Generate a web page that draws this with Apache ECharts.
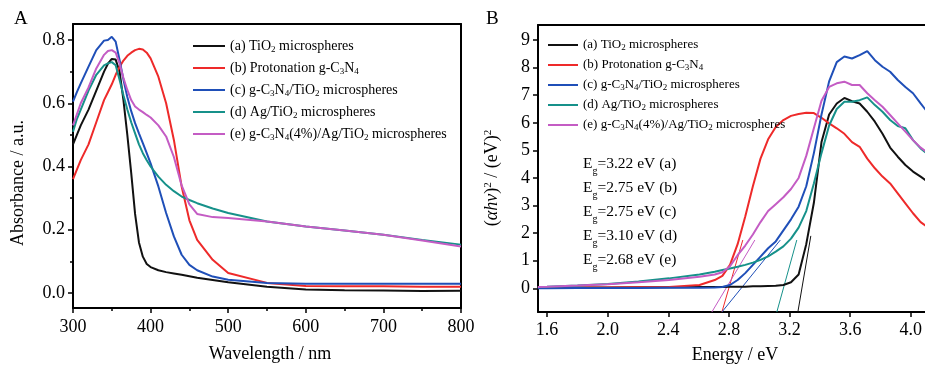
<!DOCTYPE html>
<html>
<head>
<meta charset="utf-8">
<script src="https://cdn.jsdelivr.net/npm/echarts@6/dist/echarts.min.js"></script>
<style>html,body{margin:0;padding:0;background:#fff;}#c{width:925px;height:368px;}</style>
</head>
<body>
<div id="c"></div>
<script>
// ---------- Data ----------
var seriesNames = ['(a) TiO2 microspheres', '(b) Protonation g-C3N4', '(c) g-C3N4/TiO2 microspheres', '(d) Ag/TiO2 microspheres', '(e) g-C3N4(4%)/Ag/TiO2 microspheres'];
var legendLabels = ['(a) TiO{s|2} microspheres', '(b) Protonation g-C{s|3}N{s|4}', '(c) g-C{s|3}N{s|4}/TiO{s|2} microspheres', '(d) Ag/TiO{s|2} microspheres', '(e) g-C{s|3}N{s|4}(4%)/Ag/TiO{s|2} microspheres'];
var colors = ['#111111', '#ee2a2a', '#1f4fb8', '#16918a', '#c45cc4'];

// Panel A: absorbance vs wavelength (nm)
var wavelength = [300,305,310,320,330,340,345,350,355,360,365,370,375,380,385,390,395,400,410,420,430,440,450,460,480,500,550,600,650,700,750,800];
var absA = [0.47,0.50,0.53,0.58,0.64,0.70,0.725,0.74,0.738,0.70,0.61,0.50,0.38,0.25,0.16,0.115,0.092,0.082,0.072,0.066,0.062,0.058,0.053,0.048,0.041,0.034,0.020,0.011,0.009,0.008,0.006,0.007];
var absB = [0.36,0.39,0.42,0.47,0.54,0.61,0.635,0.66,0.69,0.715,0.735,0.75,0.76,0.768,0.772,0.77,0.76,0.742,0.684,0.60,0.484,0.337,0.23,0.168,0.105,0.063,0.032,0.022,0.021,0.021,0.020,0.020];
var absC = [0.605,0.635,0.663,0.716,0.768,0.798,0.80,0.81,0.795,0.737,0.675,0.62,0.575,0.537,0.505,0.474,0.442,0.41,0.337,0.253,0.179,0.121,0.089,0.072,0.052,0.042,0.032,0.029,0.029,0.029,0.029,0.029];
var absD = [0.51,0.55,0.58,0.64,0.69,0.72,0.726,0.73,0.72,0.674,0.625,0.58,0.54,0.505,0.47,0.442,0.42,0.40,0.368,0.342,0.322,0.305,0.294,0.284,0.267,0.253,0.226,0.21,0.198,0.184,0.168,0.153];
var absE = [0.53,0.565,0.60,0.65,0.71,0.753,0.765,0.768,0.76,0.726,0.68,0.642,0.61,0.59,0.58,0.572,0.563,0.555,0.53,0.495,0.43,0.34,0.28,0.25,0.24,0.237,0.226,0.21,0.198,0.184,0.166,0.147];

// Panel B: (alpha h nu)^2 vs energy (eV)
var energy = [1.54,1.6,1.8,2.0,2.2,2.4,2.6,2.7,2.75,2.8,2.85,2.9,2.95,3.0,3.05,3.1,3.15,3.2,3.25,3.3,3.35,3.4,3.45,3.5,3.55,3.6,3.65,3.7,3.75,3.8,3.85,3.9,3.95,4.0,4.05,4.1];
var taucA = [0.02,0.02,0.03,0.03,0.04,0.04,0.05,0.05,0.05,0.06,0.06,0.06,0.07,0.07,0.08,0.09,0.12,0.22,0.5,1.6,3.1,5.3,6.3,6.7,6.9,6.78,6.7,6.4,6.04,5.6,5.1,4.77,4.47,4.23,4.05,3.85];
var taucB = [0.02,0.02,0.03,0.03,0.04,0.05,0.12,0.3,0.45,0.85,1.6,2.6,3.7,4.7,5.4,5.85,6.1,6.25,6.32,6.36,6.35,6.18,5.98,5.8,5.6,5.3,5.13,4.7,4.35,4.05,3.8,3.44,3.08,2.72,2.4,2.2];
var taucC = [0.0,0.0,0.01,0.01,0.01,0.02,0.02,0.03,0.05,0.12,0.3,0.55,0.85,1.15,1.45,1.7,2.1,2.5,2.96,3.7,4.9,6.3,7.5,8.2,8.4,8.33,8.45,8.6,8.27,8.03,7.85,7.55,7.3,7.07,6.7,6.35];
var taucD = [0.05,0.06,0.1,0.16,0.25,0.36,0.5,0.6,0.66,0.72,0.78,0.85,0.93,1.03,1.16,1.33,1.52,1.8,2.2,2.8,3.8,4.9,5.9,6.5,6.76,6.76,6.82,6.92,6.64,6.4,6.1,5.88,5.8,5.37,5.07,4.85];
var taucE = [0.05,0.06,0.1,0.15,0.22,0.3,0.42,0.5,0.58,0.8,1.2,1.55,1.95,2.4,2.8,3.05,3.3,3.6,4.0,4.8,5.8,6.8,7.3,7.43,7.49,7.37,7.37,7.07,6.82,6.58,6.28,5.98,5.68,5.37,5.1,4.9];

// Tangent (extrapolation) lines: [E, value] end points
var tangentA = [[3.245,-0.86],[3.33,1.9]];
var tangentB = [[2.747,-0.86],[2.884,1.75]];
var tangentC = [[2.747,-0.86],[3.13,1.75]];
var tangentD = [[3.107,-0.86],[3.238,1.75]];
var tangentE = [[2.681,-0.86],[2.963,1.75]];

var bandGaps = ['3.22','2.75','2.75','3.10','2.68'];
var bandLetters = ['a','b','c','d','e'];

var xTicksA = {min:300, max:800, interval:100};
var yTicksA = {min:0, max:0.8, interval:0.2};
var xTicksB = {min:1.6, max:4.0, interval:0.4};
var yTicksB = {min:0, max:9, interval:1};

// ---------- Chart ----------
var FONT = "'Liberation Serif','Times New Roman',serif";
var chart = echarts.init(document.getElementById('c'), null, {renderer:'canvas'});

function pairs(xs, ys){ return xs.map(function(x,i){ return [x, ys[i]]; }); }
var absSets = [absA, absB, absC, absD, absE];
var taucSets = [taucA, taucB, taucC, taucD, taucE];
var tangents = [tangentA, tangentB, tangentC, tangentD, tangentE];

var series = [];
absSets.forEach(function(d,i){
  series.push({name:seriesNames[i], type:'line', xAxisIndex:0, yAxisIndex:0, data:pairs(wavelength,d),
    showSymbol:false, symbol:'none', color:colors[i], lineStyle:{width:2, color:colors[i]}, z:2+i});
});
tangents.forEach(function(d,i){
  series.push({name:'tan'+i, type:'line', xAxisIndex:2, yAxisIndex:2, data:d,
    showSymbol:false, symbol:'none', color:colors[i], lineStyle:{width:1, color:colors[i]}, z:1});
});
taucSets.forEach(function(d,i){
  series.push({name:seriesNames[i], type:'line', xAxisIndex:2, yAxisIndex:2, data:pairs(energy,d),
    showSymbol:false, symbol:'none', color:colors[i], lineStyle:{width:2, color:colors[i]}, z:2+i});
});

var richSub = {
  s:{fontFamily:FONT, fontSize:9, color:'#000', lineHeight:8, verticalAlign:'bottom'}
};
function legendFmt(name){ return legendLabels[seriesNames.indexOf(name)]; }

function ticks(){ return {show:true, length:5, lineStyle:{color:'#000', width:1.5}}; }
function minor(){ return {show:true, splitNumber:2, length:3, lineStyle:{color:'#000', width:1.5}}; }
function lbl(margin, fmt){
  var o = {show:true, margin:margin, fontFamily:FONT, fontSize:18, color:'#000'};
  if (fmt) o.formatter = fmt;
  return o;
}
function fix1(v){ return v.toFixed(1); }
var xMaxB = 1.541 + 387/152.5;
var titleStyle = {fontFamily:FONT, fontSize:18, fill:'#000', align:'center', verticalAlign:'middle'};
function frameAxis(grid, pos, min, max){
  return {gridIndex:grid, type:'value', position:pos, min:min, max:max,
    axisLine:{show:true, onZero:false, lineStyle:{color:'#000', width:2}},
    axisTick:{show:false}, axisLabel:{show:false}, splitLine:{show:false}};
}
function hidden(grid){ return {gridIndex:grid, type:'value', min:0, max:1, show:false}; }
function tickAxis(grid, pos, t, margin, fmt, withMinor){
  var a = {gridIndex:grid, type:'value', position:pos, min:t.min, max:t.max, interval:t.interval,
    axisLine:{show:true, lineStyle:{color:'#000', width:1, opacity:0}},
    axisTick:ticks(), splitLine:{show:false}, axisLabel:lbl(margin, fmt)};
  a.minorTick = withMinor ? minor() : {show:false};
  return a;
}

var egText = bandGaps.map(function(v,i){ return 'E{g|g}=' + v + ' eV (' + bandLetters[i] + ')'; }).join('\n');

chart.setOption({
  animation:false,
  backgroundColor:'#fff',
  grid:[
    {left:73, top:24, width:388, height:284},      // 0: panel A data
    {left:73, top:40, width:388, height:253},      // 1: panel A y ticks
    {left:538, top:25, width:387, height:287},     // 2: panel B data
    {left:547, top:25, width:366, height:287},     // 3: panel B x ticks
    {left:538, top:40, width:10, height:248.3},    // 4: panel B y ticks
    {left:73, top:24, width:388, height:284}       // 5: panel A x ticks
  ],
  xAxis:[
    frameAxis(0, 'bottom', xTicksA.min, xTicksA.max),
    hidden(1),
    frameAxis(2, 'bottom', 1.541, xMaxB),
    tickAxis(3, 'bottom', xTicksB, 9, fix1, false),
    hidden(4),
    tickAxis(5, 'bottom', xTicksA, 10, null, true),
    frameAxis(2, 'top', 1.541, xMaxB),
    frameAxis(0, 'top', xTicksA.min, xTicksA.max)
  ],
  yAxis:[
    frameAxis(0, 'left', -0.0474, 0.8506),
    tickAxis(1, 'left', yTicksA, 8, fix1, true),
    frameAxis(2, 'left', -0.859, 9.544),
    hidden(3),
    tickAxis(4, 'left', yTicksB, 8, null, false),
    hidden(5),
    frameAxis(0, 'right', -0.0474, 0.8506)
  ],
  legend:[
    {data:seriesNames, orient:'vertical', left:193, top:38, padding:0, itemWidth:32, itemHeight:2, icon:'rect', itemGap:6,
      selectedMode:false, formatter:legendFmt,
      textStyle:{fontFamily:FONT, fontSize:14, color:'#000', lineHeight:16, rich:richSub}},
    {data:seriesNames, orient:'vertical', left:548, top:37.5, padding:0, itemWidth:30, itemHeight:2, icon:'rect', itemGap:5,
      selectedMode:false, formatter:legendFmt,
      textStyle:{fontFamily:FONT, fontSize:13, color:'#000', lineHeight:15, rich:richSub}}
  ],
  graphic:[
    {type:'text', left:14, top:10, style:{text:'A', fontFamily:FONT, fontSize:19, fill:'#000'}},
    {type:'text', left:486, top:10, style:{text:'B', fontFamily:FONT, fontSize:19, fill:'#000'}},
    {type:'text', x:18, y:183, rotation:Math.PI/2, style:Object.assign({text:'Absorbance / a.u.'}, titleStyle)},
    {type:'text', x:270, y:354, style:Object.assign({text:'Wavelength / nm'}, titleStyle)},
    {type:'text', x:735, y:355, style:Object.assign({text:'Energy / eV'}, titleStyle)},
    {type:'text', x:492, y:178, rotation:Math.PI/2,
      style:Object.assign({text:'({i|αhν}){p|2} / (eV){p|2}',
        rich:{i:{fontFamily:FONT, fontSize:18, fontStyle:'italic', fill:'#000'},
              p:{fontFamily:FONT, fontSize:11, fill:'#000', lineHeight:10, verticalAlign:'top'}}}, titleStyle)},
    {type:'text', x:583, y:152,
      style:{text:egText, fontFamily:FONT, fontSize:15.5, lineHeight:24, fill:'#000',
        rich:{g:{fontFamily:FONT, fontSize:10, fill:'#000', lineHeight:12, verticalAlign:'bottom'}}}}
  ],
  series:series
});
</script>
</body>
</html>
